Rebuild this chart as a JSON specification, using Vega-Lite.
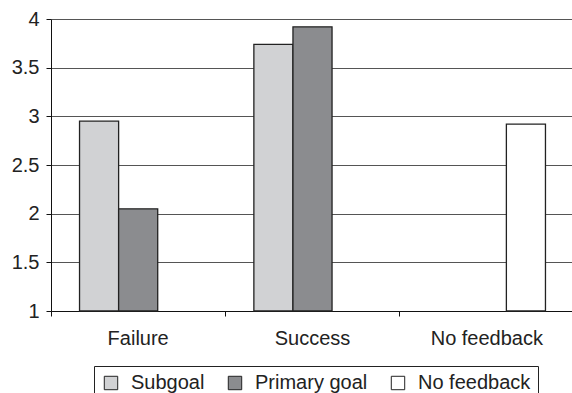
{
  "$schema": "https://vega.github.io/schema/vega-lite/v6.json",
  "autosize": "none",
  "width": 523,
  "height": 292,
  "padding": {"left": 51, "top": 19, "right": 0, "bottom": 82},
  "background": "white",
  "config": {
    "view": {"stroke": null},
    "font": "Liberation Sans",
    "axis": {
      "labelFont": "Liberation Sans",
      "labelFontSize": 20,
      "labelColor": "#222",
      "domainColor": "#111",
      "tickColor": "#111",
      "tickSize": 5,
      "title": null
    },
    "legend": {
      "labelFont": "Liberation Sans",
      "labelFontSize": 20,
      "labelColor": "#222"
    }
  },
  "data": {
    "values": [
      {"outcome": "Failure", "goal": "Subgoal", "rating": 2.95},
      {"outcome": "Failure", "goal": "Primary goal", "rating": 2.05},
      {"outcome": "Success", "goal": "Subgoal", "rating": 3.74},
      {"outcome": "Success", "goal": "Primary goal", "rating": 3.92},
      {"outcome": "No feedback", "goal": "No feedback", "rating": 2.92}
    ]
  },
  "mark": {"type": "bar", "stroke": "#222", "strokeWidth": 1.3},
  "encoding": {
    "x": {
      "field": "outcome",
      "type": "nominal",
      "sort": ["Failure", "Success", "No feedback"],
      "scale": {"paddingInner": 0, "paddingOuter": 0},
      "axis": {
        "labelAngle": 0,
        "bandPosition": 0,
        "labelPadding": 12,
        "labelBaseline": "top",
        "grid": false
      }
    },
    "xOffset": {
      "field": "goal",
      "type": "nominal",
      "scale": {
        "domain": ["Subgoal", "Primary goal", "No feedback"],
        "paddingInner": 0,
        "paddingOuter": 0.73
      }
    },
    "y": {
      "field": "rating",
      "type": "quantitative",
      "scale": {"domain": [1, 4], "zero": false, "nice": false},
      "axis": {
        "values": [1, 1.5, 2, 2.5, 3, 3.5, 4],
        "format": "~g",
        "labelPadding": 7,
        "grid": true,
        "gridColor": "#555",
        "gridWidth": 1
      }
    },
    "y2": {"datum": 1},
    "fill": {
      "field": "goal",
      "type": "nominal",
      "scale": {
        "domain": ["Subgoal", "Primary goal", "No feedback"],
        "range": ["#d1d2d4", "#8b8c8f", "#ffffff"]
      },
      "legend": {
        "orient": "none",
        "legendX": 43,
        "legendY": 347,
        "direction": "horizontal",
        "title": null,
        "symbolType": "square",
        "symbolSize": 180,
        "symbolStrokeColor": "#222",
        "symbolStrokeWidth": 1,
        "symbolOpacity": 1,
        "labelOffset": 10,
        "columnPadding": 20,
        "strokeColor": "#222",
        "padding": 7
      }
    }
  }
}
